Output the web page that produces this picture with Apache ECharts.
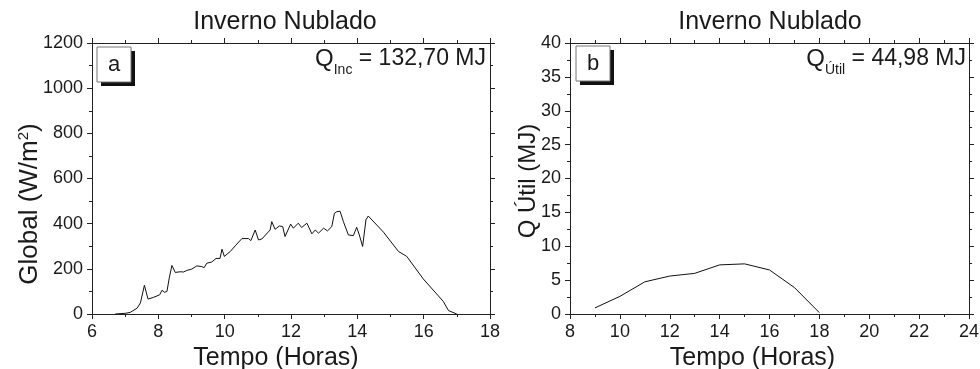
<!DOCTYPE html>
<html><head><meta charset="utf-8">
<script src="https://cdn.jsdelivr.net/npm/echarts@6/dist/echarts.min.js"></script>
<style>html,body{margin:0;padding:0;background:#fff}#c{width:980px;height:369px}</style>
</head><body><div id="c"></div>
<script>
// ---- data ----
const hoursA = [6.70, 7.00, 7.15, 7.36, 7.46, 7.58, 7.69, 7.86, 8.04, 8.11, 8.19, 8.26, 8.33, 8.41, 8.51, 8.66, 8.76, 8.86, 9.01, 9.16, 9.31, 9.38, 9.46, 9.61, 9.74, 9.86, 9.92, 9.99, 10.17, 10.32, 10.52, 10.72, 10.79, 10.92, 11.02, 11.12, 11.37, 11.42, 11.52, 11.65, 11.75, 11.82, 11.99, 12.07, 12.22, 12.32, 12.48, 12.63, 12.73, 12.83, 12.98, 13.10, 13.23, 13.31, 13.38, 13.48, 13.58, 13.73, 13.88, 13.98, 14.06, 14.16, 14.26, 14.33, 14.79, 15.24, 15.49, 15.99, 16.59, 16.75, 17.00];
const globalA = [0, 3, 7, 26, 49, 127, 66, 74, 85, 105, 96, 100, 160, 215, 184, 187, 186, 193, 199, 213, 210, 205, 225, 230, 246, 246, 287, 255, 277, 302, 334, 334, 325, 372, 328, 332, 372, 409, 375, 390, 387, 343, 398, 380, 402, 383, 402, 355, 372, 358, 380, 368, 387, 446, 453, 455, 409, 350, 347, 384, 350, 299, 417, 434, 362, 277, 255, 155, 56, 15, 0];
const hoursB = [9, 10, 11, 12, 13, 14, 15, 16, 17, 18];
const qUtilB = [0.9, 2.6, 4.75, 5.6, 6.0, 7.25, 7.4, 6.5, 3.9, 0.2];
const titleText = 'Inverno Nublado';
const xTitle = 'Tempo (Horas)';
const yTitleA = ['Global (W/m', '2', ')'];
const yTitleB = 'Q Útil (MJ)';
const annotA = ['Q', 'Inc', ' = 132,70 MJ'];
const annotB = ['Q', 'Útil', ' = 44,98 MJ'];
const panelLetters = ['a', 'b'];
// axis ranges [min, max, interval]
const xRangeA = [6, 18, 2], yRangeA = [0, 1200, 200];
const xRangeB = [8, 24, 2], yRangeB = [0, 40, 5];

const FONT = "'Liberation Sans', Arial, Helvetica, sans-serif";
const INK = '#1a1a1a';

function mkAxis(range, gridIndex, position, showLabel, isX) {
  return {
    type: 'value', gridIndex, position,
    min: range[0], max: range[1], interval: range[2],
    axisLine: {show: true, onZero: false, lineStyle: {color: '#222', width: 1}},
    axisTick: {show: true, inside: false, length: 5, lineStyle: {color: '#222', width: 1}},
    minorTick: {show: true, splitNumber: 2, length: 3, lineStyle: {color: '#222', width: 1}},
    splitLine: {show: false},
    axisLabel: {show: showLabel, color: INK, fontFamily: FONT, fontSize: 18, margin: 9,
      formatter: v => String(v),
      showMinLabel: true, showMaxLabel: true, hideOverlap: false}
  };
}

const chart = echarts.init(document.getElementById('c'), null, {renderer: 'canvas'});

function panelBox(x, y, letter) {
  return [
    {type: 'rect', shape: {x: x + 4, y: y + 4, width: 34, height: 35}, style: {fill: '#111'}, z: 10},
    {type: 'rect', shape: {x: x, y: y, width: 34, height: 35}, style: {fill: '#fff', stroke: '#777', lineWidth: 1}, z: 11},
    {type: 'text', x: x + 17, y: y + 17.5, z: 12,
      style: {text: letter, font: '22px ' + FONT, fill: INK, align: 'center', verticalAlign: 'middle', textAlign: 'center', textVerticalAlign: 'middle'}}
  ];
}
function annot(xRight, yMid, parts) {
  return {type: 'text', x: xRight, y: yMid, z: 12,
    style: {
      text: '{q|' + parts[0] + '}{s|' + parts[1] + '}{t|' + parts[2] + '}',
      align: 'right', verticalAlign: 'middle', textAlign: 'right', textVerticalAlign: 'middle',
      rich: {
        q: {fontSize: 24, fontFamily: FONT, fill: INK, lineHeight: 36},
        s: {fontSize: 14, fontFamily: FONT, fill: INK, lineHeight: 14, verticalAlign: 'bottom'},
        t: {fontSize: 23, fontFamily: FONT, fill: INK, lineHeight: 36}
      }
    }};
}
function plainText(x, y, txt, size, rot) {
  return {type: 'text', x, y, rotation: rot || 0, z: 12,
    style: {text: txt, font: size + 'px ' + FONT, fill: INK, align: 'center', verticalAlign: 'middle', textAlign: 'center', textVerticalAlign: 'middle'}};
}

const option = {
  backgroundColor: '#fff',
  animation: false,
  grid: [
    {left: 92, top: 43, width: 398, height: 271, outerBoundsMode: 'none', containLabel: false},
    {left: 570, top: 43, width: 399, height: 271, outerBoundsMode: 'none', containLabel: false}
  ],
  xAxis: [
    mkAxis(xRangeA, 0, 'bottom', true, true),
    mkAxis(xRangeA, 0, 'top', false, true),
    mkAxis(xRangeB, 1, 'bottom', true, true),
    mkAxis(xRangeB, 1, 'top', false, true)
  ],
  yAxis: [
    mkAxis(yRangeA, 0, 'left', true, false),
    mkAxis(yRangeA, 0, 'right', false, false),
    mkAxis(yRangeB, 1, 'left', true, false),
    mkAxis(yRangeB, 1, 'right', false, false)
  ],
  series: [
    {type: 'line', xAxisIndex: 0, yAxisIndex: 0, showSymbol: false, symbol: 'none',
      lineStyle: {color: '#111', width: 1}, data: hoursA.map((h, i) => [h, globalA[i]])},
    {type: 'line', xAxisIndex: 2, yAxisIndex: 2, showSymbol: false, symbol: 'none',
      lineStyle: {color: '#111', width: 1}, data: hoursB.map((h, i) => [h, qUtilB[i]])}
  ],
  graphic: [
    plainText(285, 22, titleText, 25),
    plainText(770, 22, titleText, 25),
    plainText(276, 358, xTitle, 25),
    plainText(752.5, 358, xTitle, 25),
    {type: 'text', x: 30, y: 204, rotation: Math.PI / 2, z: 12,
      style: {text: '{n|' + yTitleA[0] + '}{s|' + yTitleA[1] + '}{n|' + yTitleA[2] + '}',
        align: 'center', verticalAlign: 'middle', textAlign: 'center', textVerticalAlign: 'middle',
        rich: {n: {fontSize: 26, fontFamily: FONT, fill: INK, lineHeight: 28},
               s: {fontSize: 15, fontFamily: FONT, fill: INK, lineHeight: 15, verticalAlign: 'top'}}}},
    plainText(528.7, 181, yTitleB, 24, Math.PI / 2),
    annot(486, 59, annotA),
    annot(966, 59, annotB),
    ...panelBox(97, 47, panelLetters[0]),
    ...panelBox(576, 46, panelLetters[1])
  ]
};
chart.setOption(option);
</script>
</body></html>
